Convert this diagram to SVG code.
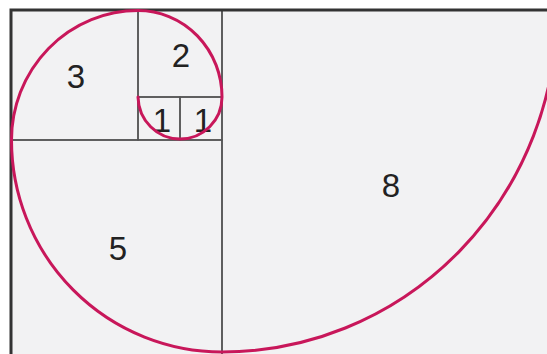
<svg xmlns="http://www.w3.org/2000/svg" width="547" height="354" viewBox="0 0 547 354">
  <style>
    .sq { fill: none; stroke: #555; stroke-width: 1.5; }
    .lbl { font-family: "Liberation Sans", Arial, sans-serif; font-size: 33px; fill: #222; text-anchor: middle; }
    .spiral { fill: none; stroke: #c8175a; stroke-width: 3; stroke-linecap: round; }
  </style>
  <rect x="0" y="0" width="547" height="354" fill="#ffffff"/>
  <rect x="11" y="10" width="560" height="360" fill="#f2f2f3"/>
  <g id="sq8"><rect class="sq" x="222" y="10" width="338" height="345"/><text class="lbl" x="391" y="197">8</text></g>
  <g id="sq5"><rect class="sq" x="11" y="140" width="211" height="220"/><text class="lbl" x="118" y="260">5</text></g>
  <g id="sq3"><rect class="sq" x="11" y="10" width="127" height="130"/><text class="lbl" x="76" y="88">3</text></g>
  <g id="sq2"><rect class="sq" x="138" y="10" width="84" height="87"/><text class="lbl" x="181" y="67">2</text></g>
  <g id="sq1a"><rect class="sq" x="138" y="97" width="42" height="43"/><text class="lbl" x="162" y="132">1</text></g>
  <g id="sq1b"><rect class="sq" x="180" y="97" width="42" height="43"/><text class="lbl" x="203" y="132">1</text></g>
  <rect x="11" y="10" width="560" height="360" fill="none" stroke="#333" stroke-width="3"/>
  <g id="connectors">
    <path class="spiral" d="M138,97 A42,43 0 0 0 180,139 A42,42 0 0 0 222,97 A84,86.5 0 0 0 138,10.5 A126.5,129.5 0 0 0 11.5,140 A210.5,212 0 0 0 222,352 A335,342 0 0 0 557,10"/>
  </g>
</svg>
